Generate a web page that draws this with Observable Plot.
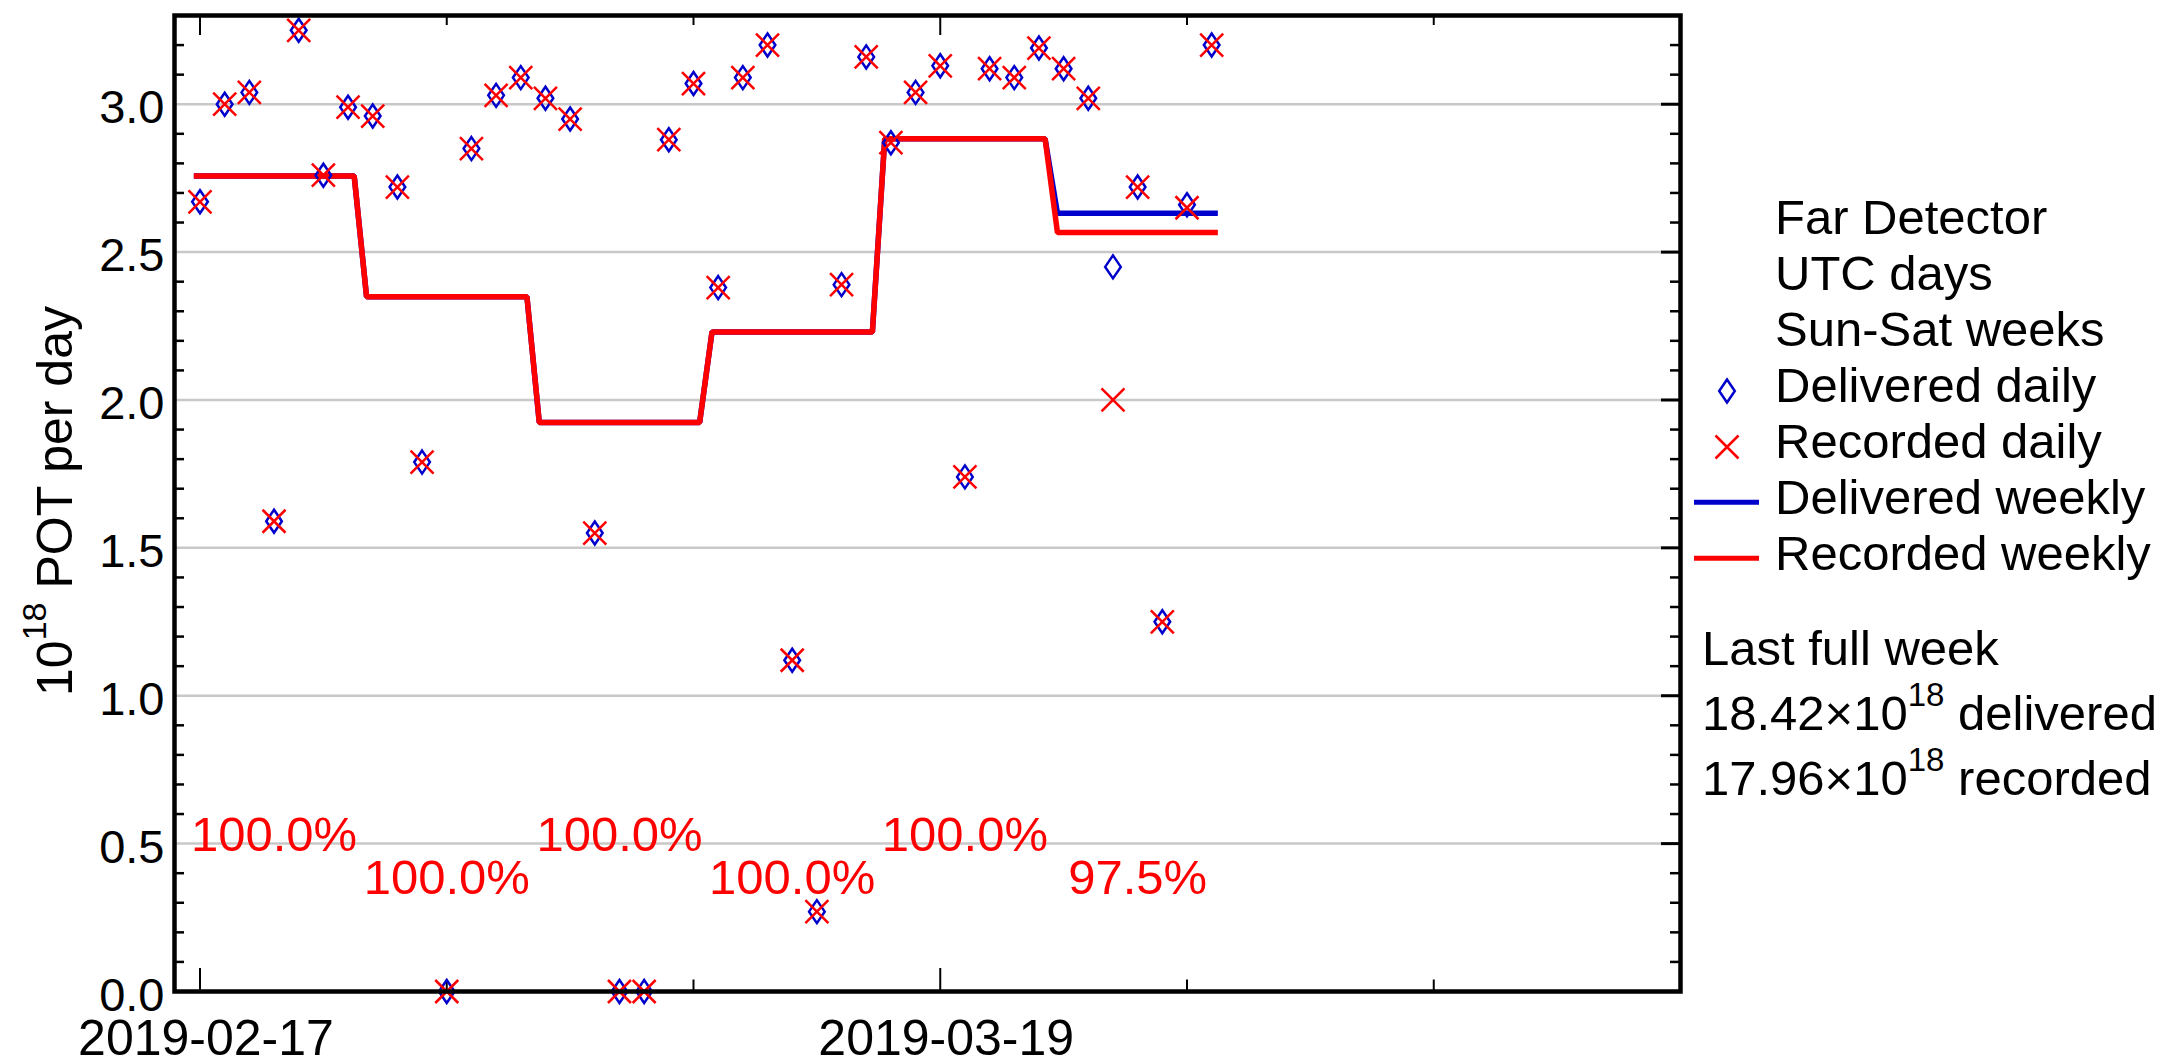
<!DOCTYPE html>
<html><head><meta charset="utf-8">
<script src="https://cdn.jsdelivr.net/npm/d3@7"></script>
<script src="https://cdn.jsdelivr.net/npm/@observablehq/plot@0.6"></script>
<style>html,body{margin:0;padding:0;background:#fff;} #chart svg{display:block;}</style>
</head><body><div id="chart"></div>
<script>
// ---------- data ----------
const firstDay = "2019-02-17";
const delivered = [2.67,3.00,3.04,1.59,3.25,2.76,2.99, 2.96,2.72,1.79,0.00,2.85,3.03,3.09,
                   3.02,2.95,1.55,0.00,0.00,2.88,3.07, 2.38,3.09,3.20,1.12,0.27,2.39,3.16,
                   2.87,3.04,3.13,1.74,3.12,3.09,3.19, 3.12,3.02,2.45,2.72,1.25,2.66,3.20];
const recorded  = [2.67,3.00,3.04,1.59,3.25,2.76,2.99, 2.96,2.72,1.79,0.00,2.85,3.03,3.09,
                   3.02,2.95,1.55,0.00,0.00,2.88,3.07, 2.38,3.09,3.20,1.12,0.27,2.39,3.16,
                   2.87,3.04,3.13,1.74,3.12,3.09,3.19, 3.12,3.02,2.00,2.72,1.25,2.65,3.20];
const weekStarts = ["2019-02-17","2019-02-24","2019-03-03","2019-03-10","2019-03-17","2019-03-24"];
const weeklyDelivered = [2.757,2.349,1.924,2.230,2.883,2.631];
const weeklyRecorded  = [2.757,2.349,1.924,2.230,2.883,2.566];
const weeklyPct = ["100.0%","100.0%","100.0%","100.0%","100.0%","97.5%"];
const yMajor = [0,0.5,1.0,1.5,2.0,2.5,3.0];
const yMinor = [0.1,0.2,0.3,0.4,0.6,0.7,0.8,0.9,1.1,1.2,1.3,1.4,1.6,1.7,1.8,1.9,2.1,2.2,2.3,2.4,2.6,2.7,2.8,2.9,3.1,3.2];
const xMajor = ["2019-02-17","2019-03-19","2019-04-18"];
const xMinor = ["2019-02-27","2019-03-09","2019-03-29","2019-04-08"];
const xLabels = ["2019-02-17","2019-03-19"];
const legendHeader = ["Far Detector","UTC days","Sun-Sat weeks"];
const legendSeries = ["Delivered daily","Recorded daily","Delivered weekly","Recorded weekly"];
const lastWeekTitle = "Last full week";
const lastWeekDelivered = 18.42, lastWeekRecorded = 17.96;
const yLabelParts = ["10","18"," POT per day"];

// ---------- layout / style ----------
const W = 2181, H = 1062;
const ML = 174, MR = 501, MT = 15, MB = 71;
const FW = W - ML - MR, FH = H - MT - MB;
const FONT = "'Liberation Sans', Arial, Helvetica, sans-serif";
const BLUE = "#0000cc", RED = "#ff0000";
const DAY = 86400000;

const day0 = new Date(firstDay);
const days = d3.utcDay.range(day0, d3.utcDay.offset(day0, delivered.length));
const daily = days.map((d, i) => ({date: d, delivered: delivered[i], recorded: recorded[i]}));
const weeks = weekStarts.map((s, i) => ({start: new Date(s), pct: weeklyPct[i], i}));
function steps(vals) {
  return weekStarts.flatMap((s, i) => {
    const t = new Date(s).getTime();
    return [{date: new Date(t - DAY / 4), v: vals[i]}, {date: new Date(t + 6.25 * DAY), v: vals[i]}];
  });
}
const diamond = {draw(ctx, size) { const r = Math.sqrt(size / Math.PI); const hh = r, hw = r * 0.68;
  ctx.moveTo(0, -hh); ctx.lineTo(hw, 0); ctx.lineTo(0, hh); ctx.lineTo(-hw, 0); ctx.closePath(); }};
const cross = {draw(ctx, size) { const r = Math.sqrt(size / Math.PI);
  ctx.moveTo(-r, -r); ctx.lineTo(r, r); ctx.moveTo(-r, r); ctx.lineTo(r, -r); }};
const toDate = s => new Date(s);

const chart = Plot.plot({
  width: W, height: H, marginLeft: ML, marginRight: MR, marginTop: MT, marginBottom: MB,
  style: {fontFamily: FONT, background: "white", overflow: "visible"},
  x: {type: "utc", domain: [new Date("2019-02-15T23:12:00Z"), new Date("2019-04-18T00:00:00Z")]},
  y: {domain: [0, 3.3]},
  marks: [
    Plot.gridY({ticks: yMajor, stroke: "#c8c8c8", strokeOpacity: 1, strokeWidth: 2.5}),
    Plot.tickY(yMinor, {y: d => d, insetRight: FW - 10, stroke: "black", strokeWidth: 2.5}),
    Plot.tickY(yMinor, {y: d => d, insetLeft: FW - 10, stroke: "black", strokeWidth: 2.5}),
    Plot.tickY(yMajor, {y: d => d, insetLeft: FW - 19, stroke: "black", strokeWidth: 3}),
    Plot.tickX(xMajor.map(toDate), {x: d => d, insetTop: FH - 23, stroke: "black", strokeWidth: 2}),
    Plot.tickX(xMinor.map(toDate), {x: d => d, insetTop: FH - 11.5, stroke: "black", strokeWidth: 2}),
    Plot.tickX(xMajor.map(toDate), {x: d => d, insetBottom: FH - 20, stroke: "black", strokeWidth: 2}),
    Plot.tickX(xMinor.map(toDate), {x: d => d, insetBottom: FH - 10, stroke: "black", strokeWidth: 2}),
    Plot.line(steps(weeklyDelivered), {x: "date", y: "v", stroke: BLUE, strokeWidth: 5.5, strokeLinejoin: "miter", strokeLinecap: "butt"}),
    Plot.line(steps(weeklyRecorded), {x: "date", y: "v", stroke: RED, strokeWidth: 5.5, strokeLinejoin: "miter", strokeLinecap: "butt"}),
    Plot.dot(daily, {x: "date", y: "delivered", symbol: diamond, r: 11.5, stroke: BLUE, strokeWidth: 2.5, fill: "none"}),
    Plot.dot(daily, {x: "date", y: "recorded", symbol: cross, r: 11.5, stroke: RED, strokeWidth: 2.5, fill: "none"}),
    Plot.text(weeks, {x: d => new Date(d.start.getTime() + 3 * DAY), y: d => d.i % 2 === 0 ? 0.475 : 0.331,
      text: "pct", fill: RED, fontSize: 49, lineAnchor: "bottom"}),
    Plot.axisY({ticks: yMajor, tickSize: 0, tickPadding: 10, fontSize: 47, tickFormat: d3.format(".1f"), dy: 4, label: null, fill: "black"}),
    Plot.axisX({ticks: xLabels.map(toDate), tickSize: 0, tickPadding: 28, fontSize: 50, tickFormat: d3.utcFormat("%Y-%m-%d"), dx: 6, label: null, fill: "black"}),
    Plot.frame({stroke: "black", strokeWidth: 4.5})
  ]
});
document.getElementById("chart").appendChild(chart);

// ---------- y label with superscript ----------
const svg = d3.select(chart);
const yl = svg.append("text").attr("transform", "translate(72,501) rotate(-90)")
  .attr("text-anchor", "middle").attr("font-family", FONT).attr("font-size", 50).attr("fill", "black");
yl.append("tspan").text(yLabelParts[0]);
yl.append("tspan").attr("font-size", 34).attr("dy", -26).text(yLabelParts[1]);
yl.append("tspan").attr("font-size", 50).attr("dy", 26).text(yLabelParts[2]);

// ---------- legend ----------
const lg = svg.append("g").attr("font-family", FONT).attr("font-size", 49).attr("fill", "black")
  .attr("text-anchor", "start");
const items = legendHeader.concat(legendSeries);
items.forEach((t, i) => {
  const yb = 234 + i * 56;
  lg.append("text").attr("x", 1775).attr("y", yb).text(t);
  const k = i - legendHeader.length;
  const cx = 1727, cy = yb - 11;
  if (k === 0) {
    lg.append("path").attr("d", `M${cx},${cy-11.5}L${cx+7.8},${cy}L${cx},${cy+11.5}L${cx-7.8},${cy}Z`)
      .attr("fill", "none").attr("stroke", BLUE).attr("stroke-width", 2.5);
  } else if (k === 1) {
    lg.append("path").attr("d", `M${cx-11.5},${cy-11.5}L${cx+11.5},${cy+11.5}M${cx-11.5},${cy+11.5}L${cx+11.5},${cy-11.5}`)
      .attr("fill", "none").attr("stroke", RED).attr("stroke-width", 2.5);
  } else if (k >= 2) {
    lg.append("line").attr("x1", 1694).attr("x2", 1759).attr("y1", yb - 11.7).attr("y2", yb - 11.7)
      .attr("stroke", k === 2 ? BLUE : RED).attr("stroke-width", 5);
  }
});
lg.append("text").attr("x", 1702).attr("y", 665).text(lastWeekTitle);
[[lastWeekDelivered, " delivered", 730], [lastWeekRecorded, " recorded", 795]].forEach(([v, word, yb]) => {
  const t = lg.append("text").attr("x", 1702).attr("y", yb);
  t.append("tspan").text(d3.format(".2f")(v) + "\u00d710");
  t.append("tspan").attr("font-size", 33).attr("dy", -24).text("18");
  t.append("tspan").attr("font-size", 49).attr("dy", 24).text(word);
});
</script>
</body></html>
